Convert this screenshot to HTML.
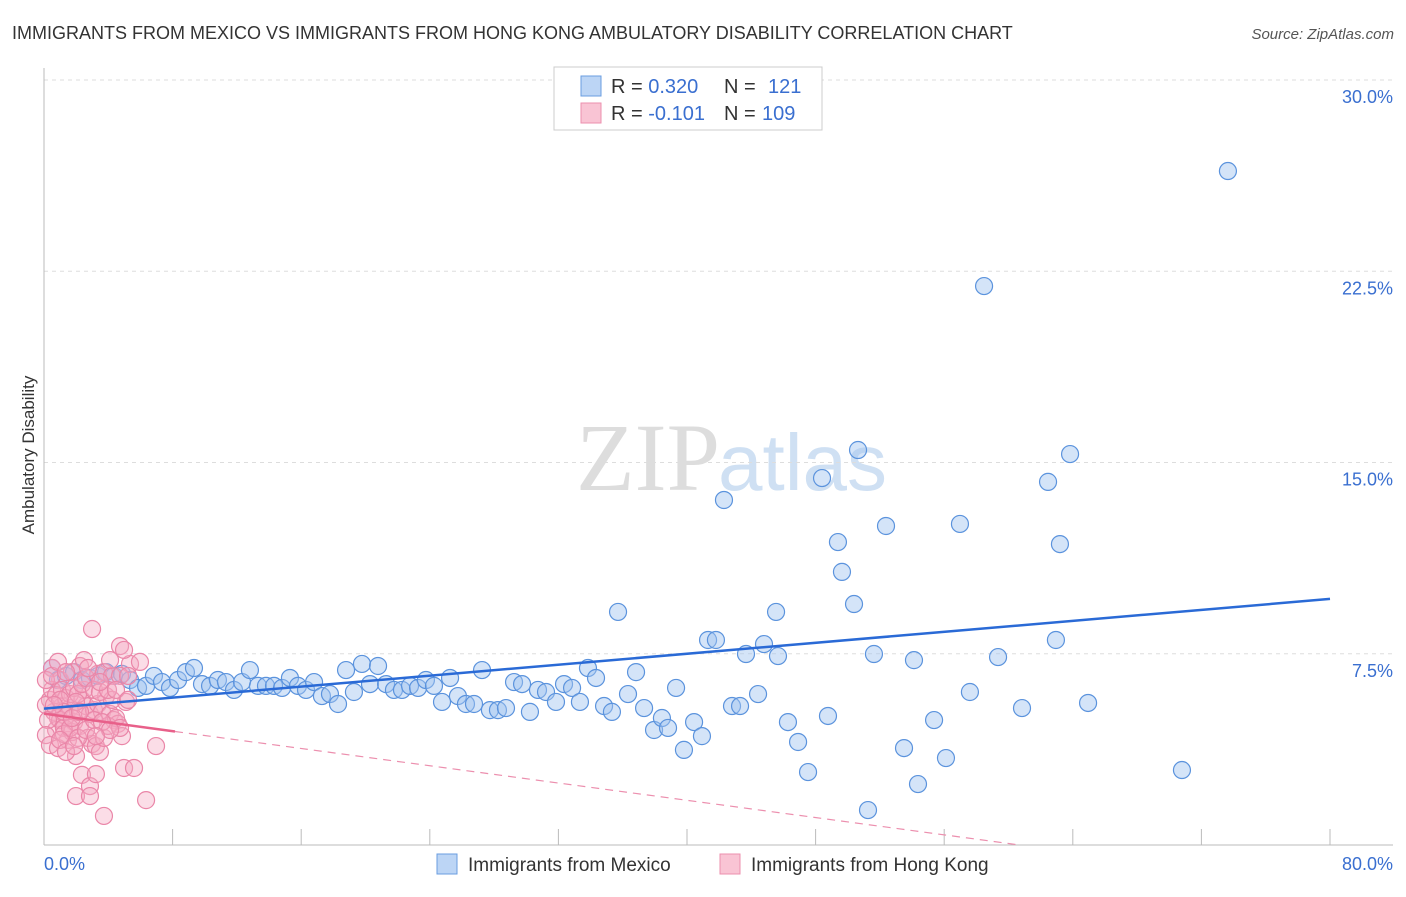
<!DOCTYPE html>
<html><head><meta charset="utf-8"><style>
body{margin:0;background:#fff;font-family:"Liberation Sans",sans-serif;}
</style></head><body>
<svg width="1406" height="892" xmlns="http://www.w3.org/2000/svg" style="font-family:'Liberation Sans',sans-serif">
<text x="12" y="39" font-size="18" fill="#333">IMMIGRANTS FROM MEXICO VS IMMIGRANTS FROM HONG KONG AMBULATORY DISABILITY CORRELATION CHART</text>
<text x="1394" y="39" font-size="15" fill="#555" font-style="italic" text-anchor="end">Source: ZipAtlas.com</text>
<text x="720" y="490" font-size="96" fill="#ddd" text-anchor="end" font-family="Liberation Serif">ZIP</text>
<text x="718" y="490" font-size="80" fill="#cfe0f3">atlas</text>
<g id="grid"></g>
<line x1="44" y1="68" x2="44" y2="845" stroke="#bbb"/>
<line x1="44" y1="845" x2="1393" y2="845" stroke="#bbb"/>
<text x="34" y="455" font-size="17" fill="#333" text-anchor="middle" transform="rotate(-90 34 455)">Ambulatory Disability</text>
<text x="44" y="870" font-size="18" fill="#3a6fd0">0.0%</text>
<text x="1393" y="870" font-size="18" fill="#3a6fd0" text-anchor="end">80.0%</text>
<g id="pts"></g>
<g id="trend"></g>
<rect x="554" y="67" width="268" height="63" fill="#fff" stroke="#ccc"/>
<rect x="581" y="76" width="20" height="20" fill="#bcd5f5" stroke="#6a9de0"/>
<rect x="581" y="103" width="20" height="20" fill="#f9c4d4" stroke="#ec8fae"/>
<text x="611" y="93" font-size="20" fill="#333">R = <tspan fill="#3a6fd0">0.320</tspan><tspan x="724">N = </tspan><tspan fill="#3a6fd0" x="768">121</tspan></text>
<text x="611" y="120" font-size="20" fill="#333">R = <tspan fill="#3a6fd0">-0.101</tspan><tspan x="724">N = </tspan><tspan fill="#3a6fd0" x="762">109</tspan></text>
<rect x="437" y="854" width="20" height="20" fill="#bcd5f5" stroke="#6a9de0"/>
<text x="468" y="871" font-size="19" fill="#333">Immigrants from Mexico</text>
<rect x="720" y="854" width="20" height="20" fill="#f9c4d4" stroke="#ec8fae"/>
<text x="751" y="871" font-size="19" fill="#333">Immigrants from Hong Kong</text>
</svg>
<script>
const yTicks=[7.5,15,22.5,30];
const yTickLabels=["7.5%","15.0%","22.5%","30.0%"];
const xTicks=[0,8,16,24,32,40,48,56,64,72,80];
const bluePx=[[52,668],[58,680],[66,676],[74,672],[82,680],[90,678],[98,676],[106,672],[114,676],[122,674],[130,680],[138,688],[146,686],[154,676],[162,682],[170,688],[178,680],[186,672],[194,668],[202,684],[210,686],[218,680],[226,682],[234,690],[242,682],[250,670],[258,686],[266,686],[274,686],[282,688],[290,678],[298,686],[306,690],[314,682],[322,696],[330,694],[338,704],[346,670],[354,692],[362,664],[370,684],[378,666],[386,684],[394,690],[402,690],[410,686],[418,688],[426,680],[434,686],[442,702],[450,678],[458,696],[466,704],[474,704],[482,670],[490,710],[498,710],[506,708],[514,682],[522,684],[530,712],[538,690],[546,692],[556,702],[564,684],[572,688],[580,702],[588,668],[596,678],[604,706],[612,712],[618,612],[628,694],[636,672],[644,708],[654,730],[662,718],[668,728],[676,688],[684,750],[694,722],[702,736],[708,640],[716,640],[724,500],[732,706],[740,706],[746,654],[758,694],[764,644],[776,612],[778,656],[788,722],[798,742],[808,772],[822,478],[828,716],[838,542],[842,572],[854,604],[858,450],[868,810],[874,654],[886,526],[904,748],[914,660],[918,784],[934,720],[946,758],[960,524],[970,692],[984,286],[998,657],[1022,708],[1048,482],[1056,640],[1060,544],[1070,454],[1088,703],[1182,770],[1228,171]];
const pinkPx=[[92,629],[120,646],[130,664],[52,668],[60,680],[72,672],[80,666],[98,674],[104,672],[112,676],[120,676],[50,700],[54,712],[58,718],[62,706],[66,716],[70,708],[74,722],[78,712],[82,700],[86,706],[90,714],[94,710],[98,704],[102,712],[106,696],[110,714],[114,720],[118,724],[122,736],[126,702],[56,730],[60,720],[64,728],[68,740],[72,732],[76,756],[80,726],[84,690],[88,738],[92,744],[96,746],[100,752],[104,738],[108,726],[112,700],[116,718],[120,728],[124,768],[134,768],[146,800],[156,746],[82,775],[90,786],[96,774],[76,796],[90,796],[104,816],[52,690],[46,705],[48,720],[56,695],[62,690],[66,698],[70,694],[74,688],[78,694],[82,684],[86,678],[94,690],[100,692],[84,660],[88,668],[108,690],[116,690],[46,735],[50,745],[58,748],[64,734],[70,728],[78,738],[86,730],[94,720],[102,722],[110,730],[46,680],[52,676],[58,662],[66,672],[128,700],[60,700],[64,712],[54,705],[72,718],[76,702],[80,712],[60,740],[66,752],[74,746],[96,736],[100,682],[110,660],[124,650],[140,662],[128,676]];
// convert read pixel positions to data values (x %, y %)
const toX=p=>+((p-44)/16.075).toFixed(2), toY=p=>+((845-p)/25.5).toFixed(2);
const blueX=bluePx.map(d=>toX(d[0])), blueY=bluePx.map(d=>toY(d[1]));
const pinkX=pinkPx.map(d=>toX(d[0])), pinkY=pinkPx.map(d=>toY(d[1]));
const blueTrend=[[0,5.35],[80,9.65]];
const pinkTrend=[[0,5.15],[8.15,4.45],[60.7,0]];
const X=v=>44+v*16.075, Y=v=>845-v*25.5;
const NS="http://www.w3.org/2000/svg";
function mk(t,a,p){const e=document.createElementNS(NS,t);for(const k in a)e.setAttribute(k,a[k]);p.appendChild(e);return e;}
const grid=document.getElementById('grid');
yTicks.forEach((v,i)=>{
 const l=mk('line',{x1:44,x2:1393,y1:Y(v),y2:Y(v),stroke:'#ddd','stroke-dasharray':'4,4'},grid);
 
 
 const t=mk('text',{x:1393,y:Y(v)+23,'font-size':18,fill:'#3a6fd0','text-anchor':'end'},grid);
 t.textContent=yTickLabels[i];
 
 
});
xTicks.forEach(v=>{
 const l=mk('line',{x1:X(v),x2:X(v),y1:829,y2:845,stroke:'#bbb'},grid);
 
 
});
const pts=document.getElementById('pts');
blueX.forEach((x,i)=>{
 const c=mk('circle',{cx:X(x),cy:Y(blueY[i]),r:8.5,fill:'rgba(160,196,240,0.45)',stroke:'#5b93dd','stroke-width':1.2},pts);
 
 
});
pinkX.forEach((x,i)=>{
 const c=mk('circle',{cx:X(x),cy:Y(pinkY[i]),r:8.5,fill:'rgba(246,170,195,0.4)',stroke:'#ea86a8','stroke-width':1.2},pts);
 
 
});
const tr=document.getElementById('trend');
let b=mk('line',{x1:X(blueTrend[0][0]),y1:Y(blueTrend[0][1]),x2:X(blueTrend[1][0]),y2:Y(blueTrend[1][1]),stroke:'#2a6ad6','stroke-width':2.5},tr);


let p1=mk('line',{x1:X(pinkTrend[0][0]),y1:Y(pinkTrend[0][1]),x2:X(pinkTrend[1][0]),y2:Y(pinkTrend[1][1]),stroke:'#e8608a','stroke-width':2.5},tr);


let p2=mk('line',{x1:X(pinkTrend[1][0]),y1:Y(pinkTrend[1][1]),x2:X(pinkTrend[2][0]),y2:Y(pinkTrend[2][1]),stroke:'#ec8fae','stroke-width':1.2,'stroke-dasharray':'8,6'},tr);


</script>
</body></html>
